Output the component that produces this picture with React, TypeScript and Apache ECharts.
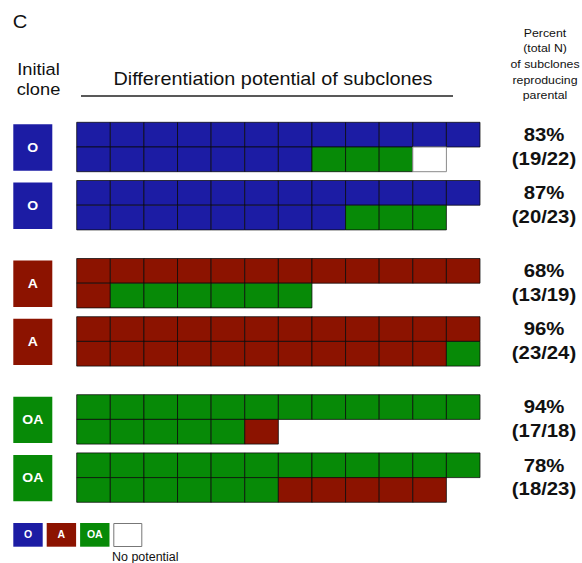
import React, { useEffect, useRef } from "react";
import * as echarts from "echarts";

// ---- data ----
const cloneTypes = ["O", "O", "A", "A", "OA", "OA"];
const clone1Top = ["O", "O", "O", "O", "O", "O", "O", "O", "O", "O", "O", "O"];
const clone1Bottom = ["O", "O", "O", "O", "O", "O", "O", "OA", "OA", "OA", "N"];
const clone2Top = ["O", "O", "O", "O", "O", "O", "O", "O", "O", "O", "O", "O"];
const clone2Bottom = ["O", "O", "O", "O", "O", "O", "O", "O", "OA", "OA", "OA"];
const clone3Top = ["A", "A", "A", "A", "A", "A", "A", "A", "A", "A", "A", "A"];
const clone3Bottom = ["A", "OA", "OA", "OA", "OA", "OA", "OA"];
const clone4Top = ["A", "A", "A", "A", "A", "A", "A", "A", "A", "A", "A", "A"];
const clone4Bottom = ["A", "A", "A", "A", "A", "A", "A", "A", "A", "A", "A", "OA"];
const clone5Top = ["OA", "OA", "OA", "OA", "OA", "OA", "OA", "OA", "OA", "OA", "OA", "OA"];
const clone5Bottom = ["OA", "OA", "OA", "OA", "OA", "A"];
const clone6Top = ["OA", "OA", "OA", "OA", "OA", "OA", "OA", "OA", "OA", "OA", "OA", "OA"];
const clone6Bottom = ["OA", "OA", "OA", "OA", "OA", "OA", "A", "A", "A", "A", "A"];
const percentLabels = ["83%", "87%", "68%", "96%", "94%", "78%"];
const countLabels = ["(19/22)", "(20/23)", "(13/19)", "(23/24)", "(17/18)", "(18/23)"];
const legendItems = ["O", "A", "OA"];
const headerLines = ["Percent", "(total N)", "of subclones", "reproducing", "parental"];

// ---- layout / style ----
const COLORS: Record<string, string> = { O: "#1c1ca4", A: "#8c1300", OA: "#078a07", N: "#ffffff" };
const ROW_H = 24.7;
const GAP_PAIR = 8.8;
const GAP_SECTION = 28.6;
const SX = 1.12; // horizontal stretch of the original figure's text
const FONT = "'Liberation Sans', Arial, Helvetica, sans-serif";

const cloneRows = [
  [clone1Top, clone1Bottom],
  [clone2Top, clone2Bottom],
  [clone3Top, clone3Bottom],
  [clone4Top, clone4Bottom],
  [clone5Top, clone5Bottom],
  [clone6Top, clone6Bottom],
];

function cloneTop(k: number) {
  let y = 0;
  for (let i = 1; i <= k; i++) {
    y += 2 * ROW_H + (i % 2 === 1 ? GAP_PAIR : GAP_SECTION);
  }
  return y;
}

function txt(x: number, y: number, text: string, font: string, opts: any = {}) {
  return {
    type: "text",
    x,
    y,
    scaleX: opts.scaleX ?? SX,
    style: {
      x: 0,
      y: 0,
      text,
      font,
      fill: opts.fill ?? "#111111",
      align: opts.align ?? "center",
      verticalAlign: "middle",
    },
  };
}

export default function App() {
  const ref = useRef<HTMLDivElement>(null);
  useEffect(() => {
    if (!ref.current) return;
    const chart = echarts.init(ref.current, null, { renderer: "svg" });

    const cellData: any[] = [];
    cloneRows.forEach((rows, k) => {
      rows.forEach((row, r) => {
        row.forEach((code, c) => {
          cellData.push([c, cloneTop(k) + r * ROW_H, code]);
        });
      });
    });
    const labelData = cloneTypes.map((t, k) => [k, cloneTop(k), t]);

    const option: any = {
      animation: false,
      grid: { left: 76.7, top: 122.3, width: 403.3, height: 380 },
      xAxis: { type: "value", min: 0, max: 12, show: false },
      yAxis: { type: "value", min: 0, max: 380, inverse: true, show: false },
      series: [
        {
          type: "custom",
          clip: false,
          data: cellData,
          renderItem: (params: any, api: any) => {
            const c = api.value(0);
            const top = api.value(1);
            const code = cellData[params.dataIndex][2];
            const p0 = api.coord([c, top]);
            const p1 = api.coord([c + 1, top + ROW_H]);
            return {
              type: "rect",
              shape: { x: p0[0], y: p0[1], width: p1[0] - p0[0], height: p1[1] - p0[1] },
              style: {
                fill: COLORS[code],
                stroke: code === "N" ? "#8a8a8a" : "rgba(10,10,10,0.75)",
                lineWidth: 1,
              },
            };
          },
        },
        {
          type: "custom",
          clip: false,
          data: labelData,
          renderItem: (params: any, api: any) => {
            const k = params.dataIndex;
            const top = api.value(1);
            const t = cloneTypes[k];
            const pT = api.coord([0, top]);
            const pB = api.coord([0, top + 2 * ROW_H]);
            const pR = api.coord([12, top]);
            const m1 = api.coord([12, top + ROW_H / 2]);
            const m2 = api.coord([12, top + ROW_H * 1.5]);
            const boxX = pT[0] - 63.4;
            return {
              type: "group",
              children: [
                {
                  type: "rect",
                  shape: { x: boxX, y: pT[1] + 2, width: 39, height: pB[1] - pT[1] - 3 },
                  style: { fill: COLORS[t] },
                },
                txt(boxX + 19.5, (pT[1] + pB[1]) / 2 + 0.5, t, `bold 13px ${FONT}`, { fill: "#ffffff", scaleX: 1.08 }),
                txt(pR[0] + 64, m1[1] - 0.5, percentLabels[k], `bold 19px ${FONT}`, { scaleX: 1.07 }),
                txt(pR[0] + 64, m2[1] - 1.5, countLabels[k], `bold 19px ${FONT}`, { scaleX: 1.07 }),
              ],
            };
          },
        },
      ],
      graphic: [
        txt(20, 22, "C", `18px ${FONT}`),
        txt(38.5, 69, "Initial", `16.3px ${FONT}`),
        txt(38.5, 89, "clone", `16.3px ${FONT}`),
        txt(273, 78.5, "Differentiation potential of subclones", `17.7px ${FONT}`),
        {
          type: "line",
          shape: { x1: 81, y1: 96, x2: 453, y2: 96 },
          style: { stroke: "#222", lineWidth: 1.5 },
        },
        ...headerLines.map((s, i) => txt(545, 32.3 + i * 15.7, s, `11px ${FONT}`)),
        ...legendItems.map((s, i) => ({
          type: "group",
          x: 13.3 + i * 33.4,
          y: 523,
          children: [
            { type: "rect", shape: { x: 0, y: 0, width: 29.4, height: 23.7 }, style: { fill: COLORS[s] } },
            txt(14.7, 12, s, `bold 10px ${FONT}`, { fill: "#ffffff", scaleX: 1.05 }),
          ],
        })),
        {
          type: "rect",
          shape: { x: 113.8, y: 523.5, width: 28, height: 23 },
          style: { fill: "#fff", stroke: "#777", lineWidth: 1 },
        },
        txt(112, 557, "No potential", `12px ${FONT}`, { align: "left", scaleX: 1.04 }),
      ],
    };
    chart.setOption(option);
    return () => chart.dispose();
  }, []);
  return <div ref={ref} style={{ position: "fixed", left: 0, top: 0, width: 582, height: 563, background: "#fff" }} />;
}
